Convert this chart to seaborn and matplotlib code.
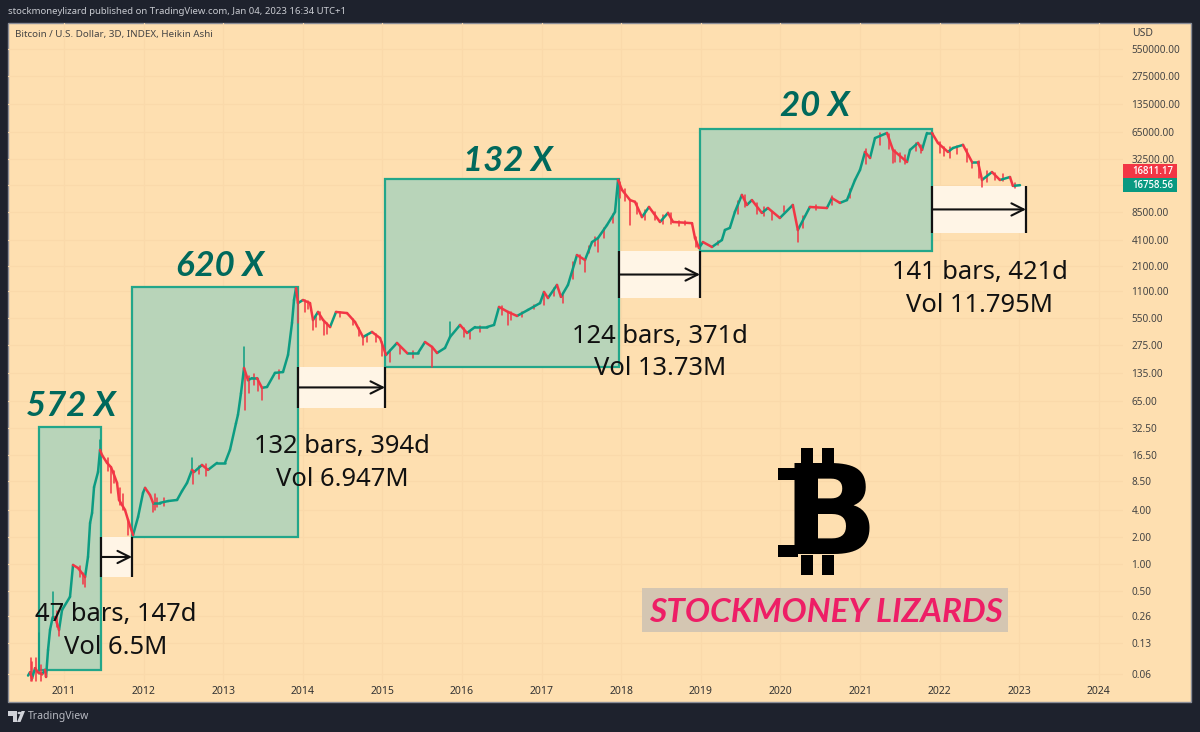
import matplotlib
matplotlib.use("Agg")
import matplotlib.pyplot as plt
import matplotlib.patches as mpatches
import numpy as np
import pandas as pd
import seaborn as sns

# ==========================================
# 1. Data
# ==========================================
years = [2010.548, 2010.573, 2010.598, 2010.636, 2010.673, 2010.724, 2010.761, 2010.774, 2010.799, 2010.824,
         2010.858, 2010.887, 2010.937, 2010.975, 2011.075, 2011.113, 2011.176, 2011.264, 2011.301, 2011.327,
         2011.352, 2011.377, 2011.427, 2011.452, 2011.477, 2011.540, 2011.590, 2011.615, 2011.666, 2011.691,
         2011.766, 2011.804, 2011.867, 2011.930, 2011.992, 2012.018, 2012.080, 2012.118, 2012.206, 2012.307,
         2012.420, 2012.482, 2012.545, 2012.608, 2012.633, 2012.733, 2012.809, 2012.922, 2013.022, 2013.085,
         2013.160, 2013.185, 2013.223, 2013.261, 2013.311, 2013.361, 2013.424, 2013.487, 2013.550, 2013.650,
         2013.751, 2013.814, 2013.864, 2013.889, 2013.914, 2013.939, 2014.002, 2014.090, 2014.128, 2014.191,
         2014.254, 2014.342, 2014.417, 2014.555, 2014.656, 2014.756, 2014.869, 2014.970, 2015.045, 2015.183,
         2015.309, 2015.447, 2015.535, 2015.623, 2015.686, 2015.786, 2015.849, 2015.975, 2016.063, 2016.163,
         2016.314, 2016.402, 2016.465, 2016.578, 2016.691, 2016.829, 2016.980, 2017.030, 2017.080, 2017.193,
         2017.243, 2017.331, 2017.444, 2017.545, 2017.633, 2017.708, 2017.821, 2017.922, 2017.960, 2018.010,
         2018.111, 2018.173, 2018.261, 2018.349, 2018.487, 2018.588, 2018.651, 2018.889, 2018.927, 2018.977,
         2019.027, 2019.140, 2019.265, 2019.303, 2019.365, 2019.428, 2019.516, 2019.579, 2019.642, 2019.767,
         2019.843, 2019.993, 2020.156, 2020.219, 2020.370, 2020.584, 2020.647, 2020.748, 2020.836, 2020.937,
         2021.000, 2021.063, 2021.126, 2021.188, 2021.339, 2021.414, 2021.590, 2021.628, 2021.728, 2021.779,
         2021.841, 2021.904, 2021.979, 2022.105, 2022.168, 2022.294, 2022.407, 2022.482, 2022.533, 2022.658,
         2022.758, 2022.884, 2022.921, 2023.010]
prices = [0.057, 0.062, 0.053, 0.069, 0.062, 0.059, 0.066, 0.055, 0.11, 0.184,
          0.256, 0.256, 0.184, 0.307, 0.43, 0.975, 0.90, 0.716, 1.197, 2.86,
          3.7, 7.2, 10.6, 18.7, 16.4, 13.4, 12.0, 10.6, 8.0, 5.17,
          4.0, 3.1, 2.1, 3.34, 6.2, 7.05, 5.87, 4.8, 4.8, 5.03,
          5.17, 6.5, 8.0, 11.2, 10.6, 12.7, 11.2, 13.4, 13.4, 18.7,
          37, 46, 80, 153, 112, 118, 118, 92, 94, 135,
          138, 214, 487, 876, 1190, 810, 876, 810, 525, 645,
          525, 438, 645, 627, 498, 339, 386, 330, 214, 291,
          225, 225, 298, 263, 225, 256, 339, 462, 376, 438,
          438, 462, 733, 645, 582, 680, 810, 1077, 923, 1290,
          950, 1290, 2780, 2450, 3880, 4300, 6000, 8400, 19100, 14800,
          11400, 10900, 7370, 9550, 6500, 8200, 6500, 6300, 4300, 3330,
          3880, 3420, 4090, 5290, 5580, 8400, 13000, 10050, 11400, 8200,
          9300, 7200, 10050, 5290, 9550, 9300, 12000, 10600, 11400, 19100,
          24700, 39200, 33600, 56000, 63800, 41300, 30300, 41300, 49400, 41300,
          63800, 63800, 49400, 39200, 43400, 47000, 30300, 30300, 19100, 23400,
          19100, 20600, 16400, 16700]

# long wicks first, then the short ones along the series
wick_years = [2010.69, 2010.858, 2010.937, 2011.264, 2011.452, 2011.590, 2011.804, 2012.118, 2012.608, 2012.615,
              2013.261, 2013.274, 2013.487, 2013.939, 2014.128, 2014.267, 2014.756, 2015.623, 2015.849, 2016.578,
              2017.030, 2017.545, 2017.708, 2018.111, 2020.219, 2021.414, 2022.407, 2022.533,
              2010.58, 2010.60, 2010.65, 2010.71, 2010.91, 2011.20, 2011.24, 2011.55, 2011.63, 2011.70,
              2011.74, 2012.14, 2012.17, 2012.25, 2012.70, 2012.78, 2013.33, 2013.39, 2013.44, 2013.70,
              2014.03, 2014.06, 2014.16, 2014.22, 2014.30, 2014.47, 2014.63, 2014.70, 2014.80, 2014.92,
              2015.00, 2015.10, 2015.22, 2015.38, 2016.03, 2016.10, 2016.22, 2016.50, 2016.62, 2016.75,
              2016.90, 2017.15, 2017.27, 2017.40, 2017.48, 2017.60, 2017.67, 2017.78, 2017.90, 2017.98,
              2018.05, 2018.20, 2018.30, 2018.42, 2018.53, 2018.62, 2018.72, 2018.80, 2018.94, 2019.22,
              2019.47, 2019.55, 2019.70, 2019.80, 2019.90, 2020.05, 2020.28, 2020.45, 2020.65, 2020.88,
              2021.08, 2021.25, 2021.37, 2021.44, 2021.50, 2021.56, 2021.70, 2021.76, 2022.00, 2022.05,
              2022.13, 2022.22, 2022.35, 2022.50, 2022.60, 2022.70, 2022.80, 2022.95]
wick_from = [0.06, 0.25, 0.2, 0.72, 18, 12, 3.1, 4.8, 11, 11,
             153, 130, 92, 810, 525, 500, 339, 263, 339, 645,
             1077, 2450, 4300, 11400, 5290, 41300, 30300, 19100,
             0.09, 0.08, 0.09, 0.075, 0.3, 0.95, 0.8, 15, 11, 7,
             6, 6, 5.4, 5.5, 12.5, 13, 125, 130, 115, 145,
             870, 850, 600, 640, 480, 640, 540, 430, 360, 370,
             300, 240, 270, 235, 430, 390, 450, 760, 640, 640,
             780, 1200, 1000, 2300, 2800, 3500, 4400, 5500, 8000, 18000,
             15000, 10500, 8800, 8500, 7800, 8200, 6700, 6600, 4400, 4000,
             11000, 13000, 10500, 9500, 8500, 9700, 7500, 10000, 12500, 15000,
             42000, 64000, 62000, 41000, 38000, 36000, 49000, 47000, 50000, 44000,
             44000, 46000, 42000, 31000, 24000, 23000, 22000, 17500]
wick_to = [0.17, 0.49, 0.158, 0.55, 24, 6.2, 2.1, 3.8, 15.2, 7.8,
           263, 52, 67, 487, 406, 357, 276, 157, 498, 462,
           770, 1800, 3000, 6000, 3880, 29600, 26000, 16100,
           0.05, 0.05, 0.05, 0.05, 0.2, 0.72, 0.6, 11, 8, 4.5,
           4, 4, 4.3, 4.4, 10, 9.5, 80, 100, 85, 115,
           640, 700, 440, 520, 370, 560, 460, 350, 300, 300,
           210, 180, 220, 200, 340, 320, 390, 600, 530, 560,
           690, 960, 820, 1500, 2200, 2900, 3500, 4300, 6300, 12000,
           11000, 8000, 6800, 6800, 6100, 6200, 5900, 6000, 3400, 3600,
           8000, 9500, 8000, 7500, 6800, 8400, 5500, 8800, 10000, 12000,
           29000, 47000, 42000, 30000, 30000, 29000, 40000, 38000, 38000, 35000,
           34000, 37000, 30000, 20000, 18000, 19000, 18500, 15700]

# growth boxes
box_starts = [2010.686, 2011.854, 2015.033, 2018.990]
box_ends = [2011.465, 2013.940, 2017.972, 2021.904]
box_tops = [33.7, 1225, 19600, 71000]
box_bottoms = [0.065, 2.0, 157, 3080]

# bear market ranges
range_starts = [2011.465, 2013.940, 2017.972, 2021.904]
range_ends = [2011.854, 2015.033, 2018.990, 2023.085]
range_tops = [2.0, 157, 3080, 16400]
range_bottoms = [0.716, 55, 923, 4900]

year_ticks = list(range(2011, 2025))
price_ticks = [550000, 275000, 135000, 65000, 32500, 8500, 4100, 2100, 1100, 550, 275, 135,
               65, 32.5, 16.5, 8.5, 4, 2, 1, 0.5, 0.26, 0.13, 0.06]

# ==========================================
# 2. Colours and page geometry (pixels)
# ==========================================
BG = "#FEDFB0"
FRAME = "#1E222D"
GRID = "#FAD9AA"
UP = "#0C9C82"
DOWN = "#F23645"
DARKGREEN = "#00695C"

W, H = 1200, 732

def fx(px):
    return px / W

def fy(py):
    return 1 - py / H

sns.set_theme(style="white")
plt.rcParams["font.family"] = ["Noto Sans", "DejaVu Sans"]

fig = plt.figure(figsize=(W / 100, H / 100), dpi=100, facecolor=FRAME)

# pane behind the axes, runs under the price scale too
fig.patches.append(mpatches.Rectangle((fx(8), fy(702)), fx(1183), 679 / H, transform=fig.transFigure,
                                      facecolor=BG, edgecolor="#8A8D96", lw=1, zorder=-1))

ax = fig.add_axes([fx(8), fy(683), fx(1115), 660 / H])
ax.set_facecolor("none")
ax.set_yscale("log")
ax.set_xlim(2010.296, 2024.304)
ax.set_ylim(0.0471, 1.074e6)

ax.set_xticks(year_ticks)
ax.set_xticklabels([str(y) for y in year_ticks])
ax.set_yticks(price_ticks)
ax.set_yticklabels([f"{p:.2f}" for p in price_ticks])
ax.minorticks_off()
ax.yaxis.tick_right()
ax.tick_params(axis="x", length=0, pad=2, labelsize=7.5, labelcolor="#333333")
ax.tick_params(axis="y", length=0, pad=6, labelsize=7.2, labelcolor="#444444")
ax.grid(True, color=GRID, lw=0.9)
ax.axhline(17000, color=GRID, lw=0.9, zorder=0)
ax.set_axisbelow(True)
for spine in ax.spines.values():
    spine.set_visible(False)

# ==========================================
# 3. Boxes
# ==========================================
for x0, x1, top, bottom in zip(box_starts, box_ends, box_tops, box_bottoms):
    ax.add_patch(mpatches.Rectangle((x0, bottom), x1 - x0, top - bottom, facecolor=(0.70, 0.83, 0.73, 0.93),
                                    edgecolor="#22A68A", lw=1.6, zorder=1))

for x0, x1, top, bottom in zip(range_starts, range_ends, range_tops, range_bottoms):
    ax.add_patch(mpatches.Rectangle((x0, bottom), x1 - x0, top - bottom, facecolor="#FFF5E6",
                                    edgecolor="none", zorder=1))
    ax.vlines([x0, x1], bottom, top, color="#111111", lw=1.6, zorder=2)
    mid = np.sqrt(top * bottom)
    ax.annotate("", xy=(x1, mid), xytext=(x0, mid), zorder=2,
                arrowprops=dict(arrowstyle="->", color="#111111", lw=1.5, mutation_scale=22, shrinkA=0, shrinkB=0))

# ==========================================
# 4. Price series, one short segment per bar
# ==========================================
rows = []
for i in range(1, len(years)):
    direction = "up" if prices[i] >= prices[i - 1] else "down"
    rows.append({"seg": i, "year": years[i - 1], "price": prices[i - 1], "dir": direction})
    rows.append({"seg": i, "year": years[i], "price": prices[i], "dir": direction})
bars_df = pd.DataFrame(rows)

wick_rows = []
for i, (yr, a, b) in enumerate(zip(wick_years, wick_from, wick_to)):
    direction = "up" if b > a else "down"
    wick_rows.append({"seg": i, "year": yr, "price": a, "dir": direction})
    wick_rows.append({"seg": i, "year": yr, "price": b, "dir": direction})
wicks_df = pd.DataFrame(wick_rows)

palette = {"up": UP, "down": DOWN}
sns.lineplot(data=wicks_df, x="year", y="price", hue="dir", units="seg", estimator=None, sort=False,
             palette=palette, lw=1.1, legend=False, ax=ax, zorder=3)
sns.lineplot(data=bars_df, x="year", y="price", hue="dir", units="seg", estimator=None, sort=False,
             palette=palette, lw=1.8, legend=False, ax=ax, zorder=4)
ax.set_xlabel("")
ax.set_ylabel("")

# ==========================================
# 5. Text
# ==========================================
def label(px, py, s, **kw):
    fig.text(fx(px), fy(py), s, va="center", **kw)

label(8, 12, "stockmoneylizard published on TradingView.com, Jan 04, 2023 16:34 UTC+1", color="#C8CAD0", fontsize=6.9)
label(15, 35, "Bitcoin / U.S. Dollar, 3D, INDEX, Heikin Ashi", color="#444444", fontsize=7.05)
label(1132, 34, "USD", color="#444444", fontsize=7.5)
label(28, 717, "TradingView", color="#B8BAC2", fontsize=7.5)

for px, py, s in [(71, 406, "572 X"), (220, 266, "620 X"), (508, 161, "132 X"), (815, 106, "20 X")]:
    label(px, py, s, ha="center", color=DARKGREEN, fontsize=25, fontweight="bold", fontstyle="italic",
          family="Lato", zorder=6)

notes = [(116, 615, "47 bars, 147d"), (116, 648, "Vol 6.5M"),
         (342, 447, "132 bars, 394d"), (342, 479, "Vol 6.947M"),
         (660, 337, "124 bars, 371d"), (660, 369, "Vol 13.73M"),
         (980, 273, "141 bars, 421d"), (980, 305, "Vol 11.795M")]
for px, py, s in notes:
    label(px, py, s, ha="center", color="#111111", fontsize=18.4, zorder=6)

# price tags on the scale
for top, colour, s in [(164, DOWN, "16811.17"), (178, "#089981", "16758.56")]:
    fig.patches.append(mpatches.Rectangle((fx(1123), fy(top + 14)), fx(54), 14 / H, transform=fig.transFigure,
                                          facecolor=colour, edgecolor="none", zorder=5))
    label(1132, top + 7, s, color="white", fontsize=6.9, family="Open Sans", fontweight="semibold", zorder=6)

# bitcoin sign
label(830, 520, "B", ha="center", color="black", fontsize=90, fontweight="bold", family="DejaVu Sans", zorder=6)
for x0, y0, h in [(801, 448, 22), (822, 448, 22), (801, 555, 20), (822, 555, 20)]:
    fig.patches.append(mpatches.Rectangle((fx(x0), fy(y0 + h)), fx(12), h / H, transform=fig.transFigure,
                                          facecolor="black", edgecolor="none", zorder=5))
for y0 in [468, 545]:
    fig.patches.append(mpatches.Rectangle((fx(778), fy(y0 + 12)), fx(20), 12 / H, transform=fig.transFigure,
                                          facecolor="black", edgecolor="none", zorder=5))

# watermark
fig.patches.append(mpatches.Rectangle((fx(642), fy(632)), fx(366), 44 / H, transform=fig.transFigure,
                                      facecolor="#D4C6B2", edgecolor="none", zorder=5))
label(826, 612, "STOCKMONEY LIZARDS", ha="center", color="#EE1E66", fontsize=24, fontstyle="italic",
      fontweight="bold", family="Lato", zorder=6)

# tradingview logo
fig.patches.append(mpatches.Polygon([(fx(8), fy(711)), (fx(17), fy(711)), (fx(17), fy(722)), (fx(12.5), fy(722)),
                                     (fx(12.5), fy(715.5)), (fx(8), fy(715.5))], transform=fig.transFigure,
                                    facecolor="#D0D2D8", edgecolor="none"))
fig.patches.append(mpatches.Circle((fx(19.5), fy(713)), fx(2), transform=fig.transFigure,
                                   facecolor="#D0D2D8", edgecolor="none"))
fig.patches.append(mpatches.Polygon([(fx(21.5), fy(711)), (fx(25), fy(711)), (fx(20.5), fy(722)), (fx(17), fy(722))],
                                    transform=fig.transFigure, facecolor="#D0D2D8", edgecolor="none"))

fig.savefig("out.png", dpi=100, facecolor=FRAME)
